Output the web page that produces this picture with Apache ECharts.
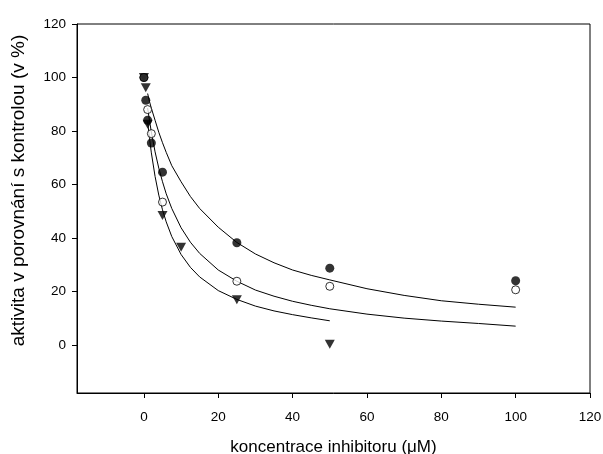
<!DOCTYPE html>
<html>
<head>
<meta charset="utf-8">
<script src="https://cdn.jsdelivr.net/npm/echarts@6/dist/echarts.min.js"></script>
<style>
	html, body { margin: 0; padding: 0; background: #fff; }
	#chart { width: 603px; height: 454px; }
</style>
</head>
<body>
<div id="chart"></div>
<script>
// tick labels
const xTicks = [0, 20, 40, 60, 80, 100, 120];
const yTicks = [0, 20, 40, 60, 80, 100, 120];

const filledX = [0, 0.5, 1, 2, 5, 25, 50, 100];
const filledY = [100, 91.5, 84, 75.5, 64.6, 38.2, 28.7, 24];
const openX = [0, 1, 2, 5, 25, 50, 100];
const openY = [100, 88, 79, 53.4, 23.8, 21.9, 20.6];
const triX = [0, 0.5, 1, 5, 10, 25, 50];
const triY = [100, 96.2, 82.5, 48.4, 36.5, 16.9, 0.2];

// fitted curves
const fitX = [1, 1.5, 2, 3, 4, 5, 6, 7.5, 10, 12.5, 15, 20, 25, 30, 35, 40, 45, 50, 60, 70, 80, 90, 100];
const fitFilled = [94, 91, 88.5, 84, 79.5, 75.6, 72, 67, 61, 55.5, 51, 44, 38.3, 34, 30.7, 28, 26, 24.3, 21, 18.5, 16.5, 15.2, 14.1];
const fitOpen = [88.6, 83.9, 79.6, 72.2, 66.1, 61, 56.5, 51, 43.8, 38.4, 34.2, 28, 23.8, 20.5, 18.2, 16.3, 14.8, 13.5, 11.5, 10, 8.9, 8, 7.0];
const fitTri = [83.6, 77.3, 71.8, 63, 56, 50.5, 46, 40.5, 33.8, 29, 25.4, 20.3, 17, 14.5, 12.7, 11.3, 10.1, 9.0];

const pairs = (xs, ys) => ys.map((y, i) => [xs[i], y]);
const font = "'Liberation Sans', Arial, sans-serif";

const chart = echarts.init(document.getElementById("chart"));

const curve = (data) => ({
	type: "line",
	data,
	showSymbol: false,
	smooth: false,
	lineStyle: { color: "#000", width: 1 },
	z: 1,
	silent: true,
});

chart.setOption({
	backgroundColor: "#fff",
	animation: false,
	grid: {
		left: 77,
		right: 13,
		top: 24,
		bottom: 61,
		outerBoundsMode: "none",
		containLabel: false,
		show: true,
		borderColor: "#000",
		borderWidth: 1,
		backgroundColor: "transparent",
	},
	xAxis: {
		type: "value",
		min: -18,
		max: 120,
		name: "koncentrace inhibitoru (\u03bcM)",
		nameLocation: "middle",
		nameGap: 46,
		nameTextStyle: { fontFamily: font, fontSize: 17, color: "#000" },
		axisLine: { onZero: false, lineStyle: { color: "#000", width: 1 } },
		axisTick: { customValues: xTicks, length: 5, lineStyle: { color: "#000" } },
		axisLabel: { customValues: xTicks, margin: 17, fontFamily: font, fontSize: 13.5, color: "#000" },
		splitLine: { show: false },
	},
	yAxis: {
		type: "value",
		min: -18,
		max: 120,
		name: "aktivita v porovnání s kontrolou (v %)",
		nameLocation: "middle",
		nameGap: 49,
		nameTextStyle: { fontFamily: font, fontSize: 19, color: "#000", padding: [0, 0, 0, 36] },
		axisLine: { onZero: false, lineStyle: { color: "#000", width: 1 } },
		axisTick: { customValues: yTicks, length: 5, lineStyle: { color: "#000" } },
		axisLabel: { customValues: yTicks, margin: 11, fontFamily: font, fontSize: 13.5, color: "#000" },
		splitLine: { show: false },
	},
	series: [
		curve(pairs(fitX, fitFilled)),
		curve(pairs(fitX, fitOpen)),
		curve(pairs(fitX, fitTri)),
		{
			type: "scatter",
			data: pairs(triX, triY),
			symbol: "triangle",
			symbolRotate: 180,
			symbolSize: [10, 9],
			itemStyle: { color: "#000" },
			z: 2,
		},
		{
			type: "scatter",
			data: pairs(openX, openY),
			symbol: "circle",
			symbolSize: 8,
			itemStyle: { color: "#fff", borderColor: "#000", borderWidth: 1 },
			z: 3,
		},
		{
			type: "scatter",
			data: pairs(filledX, filledY),
			symbol: "circle",
			symbolSize: 9,
			itemStyle: { color: "#000" },
			z: 4,
		},
	],
});
</script>
</body>
</html>
